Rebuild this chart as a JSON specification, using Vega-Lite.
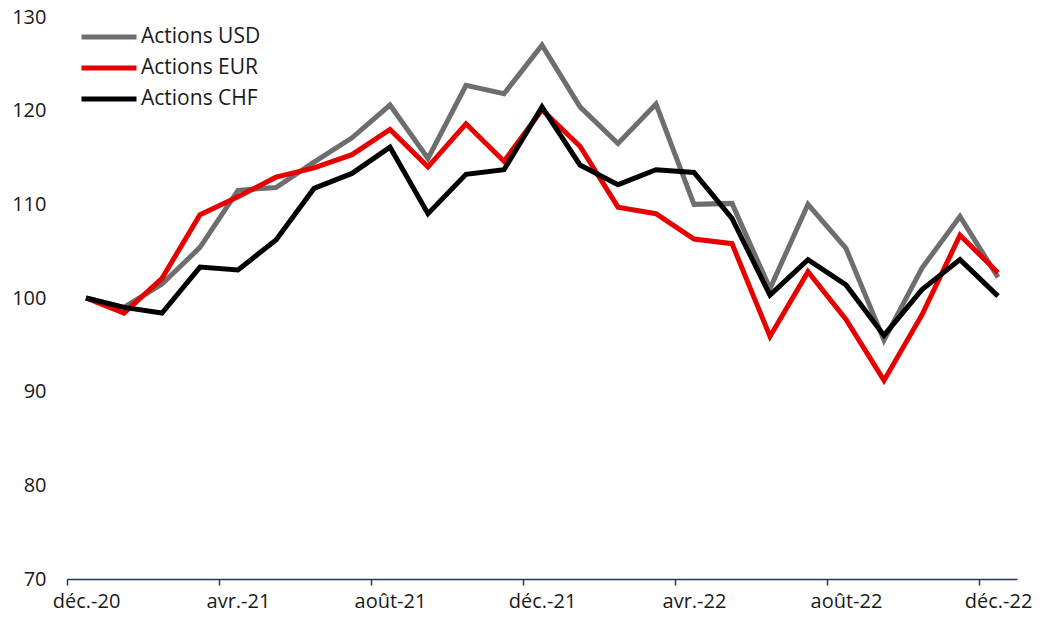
{
  "$schema": "https://vega.github.io/schema/vega-lite/v6.json",
  "width": 950,
  "height": 562,
  "autosize": {"type": "none"},
  "padding": {"left": 67, "top": 17, "right": 23, "bottom": 50},
  "background": "white",
  "config": {
    "view": {"stroke": null},
    "font": "Open Sans",
    "axis": {"labelFont": "Open Sans", "labelFontSize": 20, "labelColor": "#1a1a1a", "grid": false, "title": null}
  },
  "data": {
    "values": [
      {"m": "déc.-20", "Actions USD": 100, "Actions EUR": 100, "Actions CHF": 100},
      {"m": "janv.-21", "Actions USD": 99.0, "Actions EUR": 98.4, "Actions CHF": 99.0},
      {"m": "févr.-21", "Actions USD": 101.5, "Actions EUR": 102.1, "Actions CHF": 98.4},
      {"m": "mars-21", "Actions USD": 105.4, "Actions EUR": 108.9, "Actions CHF": 103.3},
      {"m": "avr.-21", "Actions USD": 111.5, "Actions EUR": 110.8, "Actions CHF": 103.0},
      {"m": "mai-21", "Actions USD": 111.8, "Actions EUR": 112.9, "Actions CHF": 106.2},
      {"m": "juin-21", "Actions USD": 114.5, "Actions EUR": 113.9, "Actions CHF": 111.7},
      {"m": "juil.-21", "Actions USD": 117.1, "Actions EUR": 115.3, "Actions CHF": 113.3},
      {"m": "août-21", "Actions USD": 120.6, "Actions EUR": 118.0, "Actions CHF": 116.1},
      {"m": "sept.-21", "Actions USD": 114.9, "Actions EUR": 114.0, "Actions CHF": 109.0},
      {"m": "oct.-21", "Actions USD": 122.7, "Actions EUR": 118.6, "Actions CHF": 113.2},
      {"m": "nov.-21", "Actions USD": 121.8, "Actions EUR": 114.6, "Actions CHF": 113.7},
      {"m": "déc.-21", "Actions USD": 127.0, "Actions EUR": 120.1, "Actions CHF": 120.4},
      {"m": "janv.-22", "Actions USD": 120.4, "Actions EUR": 116.2, "Actions CHF": 114.2},
      {"m": "févr.-22", "Actions USD": 116.5, "Actions EUR": 109.7, "Actions CHF": 112.1},
      {"m": "mars-22", "Actions USD": 120.7, "Actions EUR": 109.0, "Actions CHF": 113.7},
      {"m": "avr.-22", "Actions USD": 110.0, "Actions EUR": 106.3, "Actions CHF": 113.4},
      {"m": "mai-22", "Actions USD": 110.1, "Actions EUR": 105.8, "Actions CHF": 108.5},
      {"m": "juin-22", "Actions USD": 101.0, "Actions EUR": 95.9, "Actions CHF": 100.3},
      {"m": "juil.-22", "Actions USD": 110.0, "Actions EUR": 102.8, "Actions CHF": 104.1},
      {"m": "août-22", "Actions USD": 105.3, "Actions EUR": 97.7, "Actions CHF": 101.4},
      {"m": "sept.-22", "Actions USD": 95.5, "Actions EUR": 91.2, "Actions CHF": 96.0},
      {"m": "oct.-22", "Actions USD": 103.2, "Actions EUR": 98.2, "Actions CHF": 100.9},
      {"m": "nov.-22", "Actions USD": 108.7, "Actions EUR": 106.7, "Actions CHF": 104.1},
      {"m": "déc.-22", "Actions USD": 102.2, "Actions EUR": 102.7, "Actions CHF": 100.2}
    ]
  },
  "transform": [
    {"fold": ["Actions USD", "Actions EUR", "Actions CHF"], "as": ["s", "v"]}
  ],
  "mark": {"type": "line", "strokeWidth": 5, "strokeJoin": "miter"},
  "encoding": {
    "x": {
      "field": "m",
      "type": "ordinal",
      "sort": null,
      "scale": {"type": "point", "padding": 0.5},
      "axis": {
        "values": ["déc.-20", "avr.-21", "août-21", "déc.-21", "avr.-22", "août-22", "déc.-22"],
        "labelAngle": 0,
        "domainColor": "#1f3864",
        "domainWidth": 1.5,
        "tickColor": "#1f3864",
        "tickWidth": 1.5,
        "tickSize": 6,
        "tickOffset": -19,
        "labelOffset": 19,
        "labelPadding": 6
      }
    },
    "y": {
      "field": "v",
      "type": "quantitative",
      "scale": {"domain": [70, 130], "nice": false, "zero": false},
      "axis": {"values": [70, 80, 90, 100, 110, 120, 130], "domain": false, "ticks": false, "labelPadding": 21}
    },
    "color": {
      "field": "s",
      "type": "nominal",
      "sort": ["Actions USD", "Actions EUR", "Actions CHF"],
      "scale": {"domain": ["Actions USD", "Actions EUR", "Actions CHF"], "range": ["#6e6e6e", "#e60000", "#000000"]},
      "legend": {
        "title": null,
        "orient": "none",
        "legendX": 12,
        "legendY": 8,
        "padding": 0,
        "symbolType": "stroke",
        "symbolSize": 3025,
        "symbolStrokeWidth": 5,
        "clipHeight": 24,
        "rowPadding": 7,
        "labelOffset": 2,
        "labelFont": "Open Sans",
        "labelFontSize": 21,
        "labelColor": "#1a1a1a"
      }
    }
  }
}
